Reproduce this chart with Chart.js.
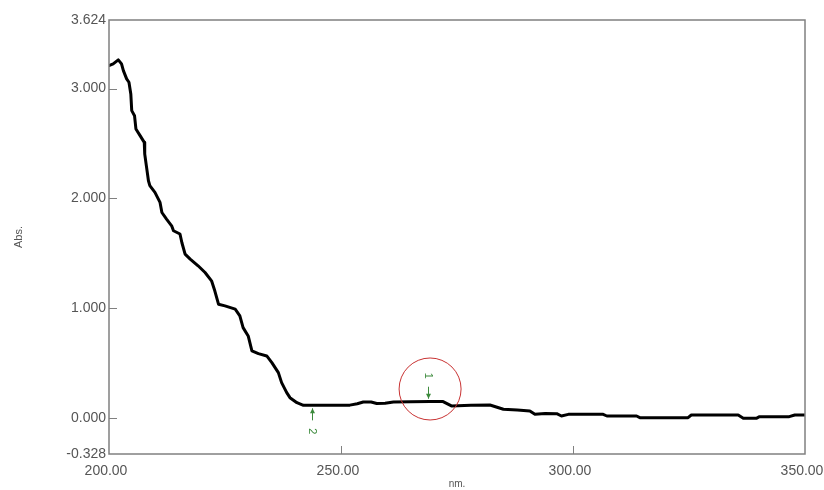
<!DOCTYPE html>
<html>
<head>
<meta charset="utf-8">
<script src="https://cdn.jsdelivr.net/npm/chart.js@4/dist/chart.umd.min.js"></script>
<style>
  html, body { margin: 0; padding: 0; background: #fff; }
  canvas { display: block; }
</style>
</head>
<body>
<canvas id="spectrum" width="824" height="490"></canvas>
<script>
// wavelength (nm) and absorbance
var wavelengths = [200.0, 200.9, 202.0, 202.7, 203.1, 203.8, 204.3, 204.7, 204.9, 205.5,
  205.8, 206.7, 207.6, 207.7, 208.1, 208.5, 208.8, 209.9, 211.0, 211.4,
  212.4, 213.5, 213.9, 215.3, 215.7, 216.4, 217.5, 219.2, 220.7, 222.1,
  222.8, 223.6, 225.0, 227.2, 228.2, 228.9, 230.0, 230.8, 232.2, 234.0,
  235.1, 236.5, 237.2, 238.3, 239.0, 240.5, 241.9, 245.0, 248.0, 251.9,
  253.5, 254.8, 256.5, 257.7, 259.5, 261.3, 265.0, 269.2, 272.0, 273.8,
  278.0, 282.1, 285.0, 288.0, 290.7, 291.8, 294.0, 296.5, 297.5, 299.0,
  303.0, 306.5, 307.3, 313.7, 314.4, 320.0, 324.8, 325.5, 330.0, 335.6,
  336.7, 339.5, 340.2, 346.6, 347.8, 350.0];
var absorbance = [3.209, 3.224, 3.261, 3.224, 3.163, 3.088, 3.057, 2.951, 2.799, 2.753,
  2.632, 2.571, 2.510, 2.404, 2.282, 2.160, 2.115, 2.054, 1.963, 1.871,
  1.811, 1.750, 1.705, 1.675, 1.598, 1.492, 1.447, 1.386, 1.325, 1.249,
  1.158, 1.036, 1.021, 0.991, 0.930, 0.823, 0.747, 0.611, 0.586, 0.565,
  0.504, 0.413, 0.322, 0.231, 0.185, 0.139, 0.115, 0.115, 0.115, 0.117,
  0.130, 0.146, 0.145, 0.132, 0.135, 0.146, 0.148, 0.150, 0.149, 0.110,
  0.115, 0.118, 0.080, 0.072, 0.064, 0.034, 0.040, 0.039, 0.018, 0.033,
  0.035, 0.033, 0.018, 0.018, 0.003, 0.003, 0.003, 0.027, 0.027, 0.027,
  -0.003, -0.003, 0.012, 0.012, 0.027, 0.027];

var xTicks = [200, 250, 300, 350];
var yTicks = [-0.328, 0, 1, 2, 3, 3.624];

// peak pick marks: number, wavelength, direction
var markLabels = ['1', '2'];
var markNm = [268.8, 243.8];
var markAbove = [true, false];

var points = [];
for (var i = 0; i < wavelengths.length; i++) {
  points.push({ x: wavelengths[i], y: absorbance[i] });
}

var frameAndMarks = {
  id: 'frameAndMarks',
  afterDraw: function(chart) {
    var ctx = chart.ctx;
    var area = chart.chartArea;
    var xs = chart.scales.x;
    var ys = chart.scales.y;
    ctx.save();

    // frame
    ctx.strokeStyle = '#808080';
    ctx.lineWidth = 1.5;
    ctx.strokeRect(area.left, area.top, area.right - area.left, area.bottom - area.top);

    // inward tick marks
    ctx.lineWidth = 1;
    ctx.beginPath();
    for (var i = 1; i < yTicks.length - 1; i++) {
      var py = Math.round(ys.getPixelForValue(yTicks[i])) + 0.5;
      ctx.moveTo(area.left, py);
      ctx.lineTo(area.left + 8, py);
    }
    for (var j = 1; j < xTicks.length - 1; j++) {
      var px = Math.round(xs.getPixelForValue(xTicks[j])) + 0.5;
      ctx.moveTo(px, area.bottom);
      ctx.lineTo(px, area.bottom - 8);
    }
    ctx.stroke();

    // peak / valley markers
    ctx.strokeStyle = '#3c8a3c';
    ctx.fillStyle = '#3c8a3c';
    ctx.font = '11px "Liberation Sans", Arial, sans-serif';
    ctx.textAlign = 'center';
    ctx.textBaseline = 'middle';
    for (var k = 0; k < markNm.length; k++) {
      var mx = Math.round(xs.getPixelForValue(markNm[k])) + 0.5;
      var idx = 0;
      while (idx < wavelengths.length - 1 && wavelengths[idx + 1] < markNm[k]) idx++;
      var cy = ys.getPixelForValue(absorbance[idx]);
      var dir = markAbove[k] ? -1 : 1;
      var tip = cy + dir * 3;
      var tail = cy + dir * 15;
      ctx.beginPath();
      ctx.moveTo(mx, tip);
      ctx.lineTo(mx, tail);
      ctx.stroke();
      ctx.beginPath();
      ctx.moveTo(mx, tip);
      ctx.lineTo(mx - 2.5, tip + dir * 5);
      ctx.lineTo(mx + 2.5, tip + dir * 5);
      ctx.closePath();
      ctx.fill();
      ctx.save();
      ctx.translate(mx, cy + dir * 26);
      ctx.rotate(Math.PI / 2);
      ctx.fillText(markLabels[k], 0, 0);
      ctx.restore();
    }

    // red circle round peak 1
    var ccx = xs.getPixelForValue(269.2);
    var ccy = ys.getPixelForValue(0.264);
    ctx.strokeStyle = '#c83232';
    ctx.lineWidth = 1;
    ctx.beginPath();
    ctx.arc(ccx, ccy, 31, 0, Math.PI * 2);
    ctx.stroke();

    ctx.restore();
  }
};

var ctx = document.getElementById('spectrum').getContext('2d');
var chart = new Chart(ctx, {
  type: 'line',
  data: {
    datasets: [{
      label: 'Abs.',
      data: points,
      borderColor: '#000',
      borderWidth: 3,
      borderJoinStyle: 'round',
      borderCapStyle: 'round',
      pointRadius: 0,
      tension: 0,
      fill: false
    }]
  },
  options: {
    responsive: false,
    animation: false,
    layout: { padding: { left: 0, top: 20, right: 19, bottom: 0 } },
    plugins: {
      legend: { display: false },
      tooltip: { enabled: false }
    },
    scales: {
      x: {
        type: 'linear',
        min: 200,
        max: 350,
        afterBuildTicks: function(scale) {
          scale.ticks = xTicks.map(function(v) { return { value: v }; });
        },
        afterFit: function(scale) {
          scale.height = 36;
          scale.paddingLeft = 0;
          scale.paddingRight = 0;
        },
        grid: { display: false, drawTicks: false },
        border: { display: false },
        ticks: {
          maxRotation: 0,
          padding: 9,
          labelOffset: -3,
          color: '#555',
          font: { family: '"Liberation Sans", Arial, sans-serif', size: 14 },
          callback: function(v) { return Number(v).toFixed(2); }
        },
        title: {
          display: true,
          text: 'nm.',
          color: '#555',
          padding: { top: 0, bottom: 0 },
          font: { family: '"Liberation Sans", Arial, sans-serif', size: 10 }
        }
      },
      y: {
        min: -0.328,
        max: 3.624,
        afterBuildTicks: function(scale) {
          scale.ticks = yTicks.map(function(v) { return { value: v }; });
        },
        afterFit: function(scale) {
          scale.width = 109;
        },
        grid: { display: false, drawTicks: false },
        border: { display: false },
        ticks: {
          padding: 3,
          color: '#555',
          font: { family: '"Liberation Sans", Arial, sans-serif', size: 14 },
          callback: function(v) { return Number(v).toFixed(3); }
        },
        title: {
          display: true,
          text: 'Abs.',
          color: '#555',
          padding: { top: 12, bottom: 0 },
          font: { family: '"Liberation Sans", Arial, sans-serif', size: 11 }
        }
      }
    }
  },
  plugins: [frameAndMarks]
});
</script>
</body>
</html>
